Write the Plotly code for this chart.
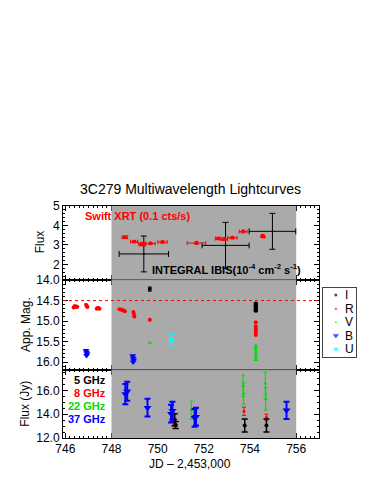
import plotly.graph_objects as go

# ---------------- data ----------------
# Panel 1: Swift XRT (0.1 cts/s)
xrt_jd = [748.58, 748.98, 749.30, 749.36, 749.69, 750.21, 751.68, 752.62, 752.88, 753.24, 753.70, 754.54, 754.58]
xrt_flux = [3.40, 3.17, 3.05, 3.02, 3.08, 3.15, 3.10, 3.33, 3.30, 3.37, 3.69, 3.46, 3.43]
xrt_jd_err = [0.12, 0.15, 0.12, 0.12, 0.2, 0.2, 0.4, 0.12, 0.15, 0.2, 0.17, 0.04, 0.04]
xrt_flux_err = [0.07, 0.06, 0.07, 0.06, 0.06, 0.06, 0.07, 0.06, 0.07, 0.06, 0.07, 0.05, 0.05]

# Panel 1: INTEGRAL IBIS (1e-4 cm^-2 s^-1)
ibis_jd = [749.40, 752.94, 754.97]
ibis_flux = [2.54, 2.98, 3.70]
ibis_jd_err = [1.07, 1.02, 1.01]
ibis_flux_err = [0.92, 1.18, 0.92]

# Panel 2: optical apparent magnitudes
I_jd = [749.66, 754.25, 754.25, 754.25, 754.25, 754.25, 754.25]
I_mag = [14.22, 14.57, 14.61, 14.64, 14.68, 14.72, 14.75]
I_err = [0.05, 0.02, 0.02, 0.02, 0.02, 0.02, 0.02]

R_jd = [746.36, 746.40, 746.44, 746.48, 746.52, 746.90, 746.93, 746.96,
        747.36, 747.40, 747.44, 747.48, 748.34, 748.40, 748.46, 748.52, 748.58,
        748.95, 748.97, 748.99, 749.66,
        754.25, 754.25, 754.25, 754.25, 754.25, 754.25]
R_mag = [14.67, 14.64, 14.64, 14.66, 14.65, 14.60, 14.64, 14.66,
         14.70, 14.68, 14.68, 14.70, 14.71, 14.72, 14.73, 14.74, 14.76,
         14.78, 14.83, 14.89, 14.97,
         15.03, 15.13, 15.18, 15.23, 15.28, 15.34]

V_jd = [749.66, 754.25, 754.25, 754.25, 754.25, 754.25, 754.25, 754.25]
V_mag = [15.53, 15.60, 15.66, 15.72, 15.78, 15.84, 15.90, 15.95]

B_jd = [746.90, 746.92, 746.94, 746.92, 748.92, 748.94, 748.96, 748.94]
B_mag = [15.72, 15.76, 15.80, 15.84, 15.85, 15.90, 15.95, 16.00]

U_jd = [750.60]
U_mag = [15.47]
U_err = [0.14]

# Panel 3: radio flux (Jy)
r37_jd = [748.60, 748.68, 749.56, 750.58, 750.64, 751.60, 751.66, 755.58]
r37_flux = [15.70, 15.95, 14.56, 14.05, 14.30, 13.70, 13.80, 14.33]
r37_err = [0.85, 0.80, 0.75, 0.75, 0.75, 0.75, 0.75, 0.72]

r5_jd = [750.74, 750.78, 753.77, 754.71]
r5_flux = [13.55, 13.10, 13.05, 13.05]
r5_err = [0.50, 0.30, 0.55, 0.55]

r8_jd = [750.68, 753.74, 754.71]
r8_flux = [13.50, 14.25, 13.75]
r8_err = [0.55, 0.35, 0.25]

r22_jd = [751.46, 753.70, 753.72, 754.66, 754.68]
r22_flux = [14.35, 16.40, 15.75, 16.60, 15.30]
r22_err = [0.75, 0.90, 0.90, 0.95, 0.95]

x_ticks = [746, 748, 750, 752, 754, 756]
gray_span = [748, 756]
x_range = [745.9, 757.0]
y1_range = [1.22, 5.0]
y2_range = [16.19, 13.99]
y3_range = [12.0, 17.75]
mag_ref = 14.5

legend_names = ["I", "R", "V", "B", "U"]
legend_colors = ["black", "red", "#00dd00", "blue", "cyan"]
legend_symbols = ["circle", "square", "triangle-up", "triangle-down", "circle"]
legend_sizes = [4, 3, 4, 7, 5]

radio_labels = ["5 GHz", "8 GHz", "22 GHz", "37 GHz"]
radio_colors = ["black", "red", "#00dd00", "blue"]

FONT = "Liberation Sans, Arial, Helvetica, sans-serif"
GRAY = "#aaaaaa"
GREEN = "#00dd00"

# layout geometry (pixels)
W, H = 374, 484
ML, MR, MT, MB = 63, 8, 205.5, 45.5
PW = W - ML - MR
PH = H - MT - MB


def PX(x):
    return (x - ML) / PW


def PY(y):
    return (H - MB - y) / PH


fig = go.Figure()

# gray observation-window bands
for (xa, ya, rng) in [("x", "y", y1_range), ("x2", "y2", y2_range), ("x3", "y3", y3_range)]:
    lo, hi = min(rng), max(rng)
    fig.add_trace(go.Scatter(
        x=[gray_span[0], gray_span[1], gray_span[1], gray_span[0], gray_span[0]],
        y=[lo, lo, hi, hi, lo], xaxis=xa, yaxis=ya, mode="lines",
        fill="toself", fillcolor=GRAY, line=dict(width=0, color=GRAY),
        hoverinfo="skip", showlegend=False))

# Panel 1
fig.add_trace(go.Scatter(
    x=ibis_jd, y=ibis_flux, xaxis="x", yaxis="y", mode="markers",
    marker=dict(size=2, color="black"),
    error_x=dict(type="data", array=ibis_jd_err, color="black", thickness=1, width=3),
    error_y=dict(type="data", array=ibis_flux_err, color="black", thickness=1, width=3),
    showlegend=False))
fig.add_trace(go.Scatter(
    x=xrt_jd, y=xrt_flux, xaxis="x", yaxis="y", mode="markers",
    marker=dict(size=5, color="red", symbol="triangle-up"),
    error_x=dict(type="data", array=xrt_jd_err, color="red", thickness=1, width=2),
    error_y=dict(type="data", array=xrt_flux_err, color="red", thickness=1, width=2),
    showlegend=False))

# Panel 2
fig.add_trace(go.Scatter(x=R_jd, y=R_mag, xaxis="x2", yaxis="y2", mode="markers",
                         marker=dict(size=4, color="red", symbol="circle"), showlegend=False))
fig.add_trace(go.Scatter(x=I_jd, y=I_mag, xaxis="x2", yaxis="y2", mode="markers",
                         marker=dict(size=4, color="black"),
                         error_y=dict(type="data", array=I_err, color="black", thickness=1, width=2),
                         showlegend=False))
fig.add_trace(go.Scatter(x=V_jd, y=V_mag, xaxis="x2", yaxis="y2", mode="markers",
                         marker=dict(size=4, color=GREEN, symbol="triangle-up"), showlegend=False))
fig.add_trace(go.Scatter(x=B_jd, y=B_mag, xaxis="x2", yaxis="y2", mode="markers",
                         marker=dict(size=6, color="blue", symbol="triangle-down"), showlegend=False))
fig.add_trace(go.Scatter(x=U_jd, y=U_mag, xaxis="x2", yaxis="y2", mode="markers",
                         marker=dict(size=5, color="cyan"),
                         error_y=dict(type="data", array=U_err, color="cyan", thickness=1, width=3),
                         showlegend=False))

# Panel 3
fig.add_trace(go.Scatter(x=r22_jd, y=r22_flux, xaxis="x3", yaxis="y3", mode="markers",
                         marker=dict(size=4, color=GREEN, symbol="triangle-up"),
                         error_y=dict(type="data", array=r22_err, color=GREEN, thickness=1, width=2),
                         showlegend=False))
fig.add_trace(go.Scatter(x=r8_jd, y=r8_flux, xaxis="x3", yaxis="y3", mode="markers",
                         marker=dict(size=3, color="red"),
                         error_y=dict(type="data", array=r8_err, color="red", thickness=1, width=2),
                         showlegend=False))
fig.add_trace(go.Scatter(x=r5_jd, y=r5_flux, xaxis="x3", yaxis="y3", mode="markers",
                         marker=dict(size=4, color="black"),
                         error_y=dict(type="data", array=r5_err, color="black", thickness=1.5, width=3),
                         showlegend=False))
fig.add_trace(go.Scatter(x=r37_jd, y=r37_flux, xaxis="x3", yaxis="y3", mode="markers",
                         marker=dict(size=7, color="blue", symbol="triangle-down"),
                         error_y=dict(type="data", array=r37_err, color="blue", thickness=2, width=3),
                         showlegend=False))

# custom legend (hidden axis)
leg_y = [0.90, 0.70, 0.50, 0.31, 0.11]
fig.add_trace(go.Scatter(
    x=[0.39] * len(legend_names), y=leg_y, xaxis="x4", yaxis="y4",
    mode="markers",
    marker=dict(size=legend_sizes, color=legend_colors, symbol=legend_symbols),
    showlegend=False, hoverinfo="skip"))

XW = PX(319.3)
common_ax = dict(showline=True, linecolor="black", linewidth=1, mirror="allticks",
                 ticks="inside", ticklen=5, tickcolor="black", tickwidth=1,
                 showgrid=False, zeroline=False, layer="below traces",
                 tickfont=dict(family=FONT, size=12, color="black"))
xcommon = dict(common_ax, range=x_range, tickvals=x_ticks,
               minor=dict(ticks="inside", ticklen=2, dtick=0.2, tick0=746, tickcolor="black", showgrid=False))

d3 = PY(370)
d2 = PY(279.5)

leg_x0, leg_x1 = PX(323), PX(356)
leg_y0, leg_y1 = PY(357), PY(288)

fig.update_layout(
    width=W, height=H,
    margin=dict(l=ML, r=MR, t=MT, b=MB),
    paper_bgcolor="white", plot_bgcolor="white",
    font=dict(family=FONT, size=12, color="black"),
    showlegend=False,
    xaxis=dict(xcommon, domain=[0, XW], anchor="y", showticklabels=False),
    yaxis=dict(common_ax, domain=[d2, 1], anchor="x", range=y1_range, dtick=1, tick0=0,
               minor=dict(ticks="inside", ticklen=2, dtick=0.2, tickcolor="black", showgrid=False)),
    xaxis2=dict(xcommon, domain=[0, XW], anchor="y2", matches="x", showticklabels=False),
    yaxis2=dict(common_ax, domain=[d3, d2], anchor="x2", range=y2_range, dtick=0.5, tick0=14,
                tickformat=".1f",
                minor=dict(ticks="inside", ticklen=2, dtick=0.1, tickcolor="black", showgrid=False)),
    xaxis3=dict(xcommon, domain=[0, XW], anchor="y3", matches="x", showticklabels=True),
    yaxis3=dict(common_ax, domain=[0, d3], anchor="x3", range=y3_range, dtick=2, tick0=12,
                tickformat=".1f",
                minor=dict(ticks="inside", ticklen=2, dtick=0.5, tickcolor="black", showgrid=False)),
    xaxis4=dict(domain=[leg_x0, leg_x1], anchor="y4", range=[0, 1],
                showline=True, linecolor="#444444", mirror=True, showticklabels=False,
                ticks="", showgrid=False, zeroline=False, fixedrange=True),
    yaxis4=dict(domain=[leg_y0, leg_y1], anchor="x4", range=[0, 1],
                showline=True, linecolor="#444444", mirror=True, showticklabels=False,
                ticks="", showgrid=False, zeroline=False, fixedrange=True),
)

# boundary lines over gray region and magnitude reference line
shapes = []
for yb in [d2, d3]:
    shapes.append(dict(type="line", xref="x", yref="paper", x0=gray_span[0], x1=gray_span[1],
                       y0=yb, y1=yb, line=dict(color="#777777", width=1), layer="above"))
shapes.append(dict(type="line", xref="x2 domain", yref="y2", x0=0, x1=1, y0=mag_ref, y1=mag_ref,
                   line=dict(color="red", width=1, dash="dot"), layer="above"))
fig.update_layout(shapes=shapes)

ann = []
ann.append(dict(text="3C279 Multiwavelength Lightcurves", xref="paper", yref="paper",
                x=PX(190), y=PY(188), showarrow=False,
                font=dict(size=14, family=FONT), xanchor="center", yanchor="middle"))
ann.append(dict(text="JD \u2013 2,453,000", xref="paper", yref="paper",
                x=PX(190), y=PY(465), showarrow=False,
                font=dict(size=12, family=FONT), xanchor="center", yanchor="middle"))
for txt, xc, yc in [("Flux", 40, 242), ("App. Mag.", 26, 325), ("Flux (Jy)", 25, 404)]:
    ann.append(dict(text=txt, xref="paper", yref="paper", x=PX(xc), y=PY(yc),
                    showarrow=False, textangle=-90, font=dict(size=12, family=FONT),
                    xanchor="center", yanchor="middle"))
ann.append(dict(text="<b>Swift XRT (0.1 cts/s)</b>", xref="paper", yref="paper",
                x=PX(83), y=PY(216), showarrow=False,
                font=dict(size=11, family=FONT, color="red"), xanchor="left", yanchor="middle"))
ann.append(dict(text="<b>INTEGRAL IBIS(10<sup>-4</sup> cm<sup>-2</sup> s<sup>-1</sup>)</b>",
                xref="paper", yref="paper", x=PX(150), y=PY(269), showarrow=False,
                font=dict(size=11, family=FONT, color="black"), xanchor="left", yanchor="middle"))
for lab, col, yc in zip(radio_labels, radio_colors, [380, 393.3, 406.7, 419.3]):
    ann.append(dict(text="<b>" + lab + "</b>", xref="paper", yref="paper",
                    x=PX(108), y=PY(yc), showarrow=False,
                    font=dict(size=11, family=FONT, color=col), xanchor="right", yanchor="middle"))
# legend labels
for name, yl in zip(legend_names, leg_y):
    ann.append(dict(text=name, xref="paper", yref="paper",
                    x=leg_x0 + 0.62 * (leg_x1 - leg_x0), y=leg_y0 + yl * (leg_y1 - leg_y0),
                    showarrow=False, font=dict(size=12, family=FONT, color="black"),
                    xanchor="left", yanchor="middle"))
fig.update_layout(annotations=ann)

fig.write_html("out.html", post_script="document.body.style.margin='0';",
               config={"displayModeBar": False})
